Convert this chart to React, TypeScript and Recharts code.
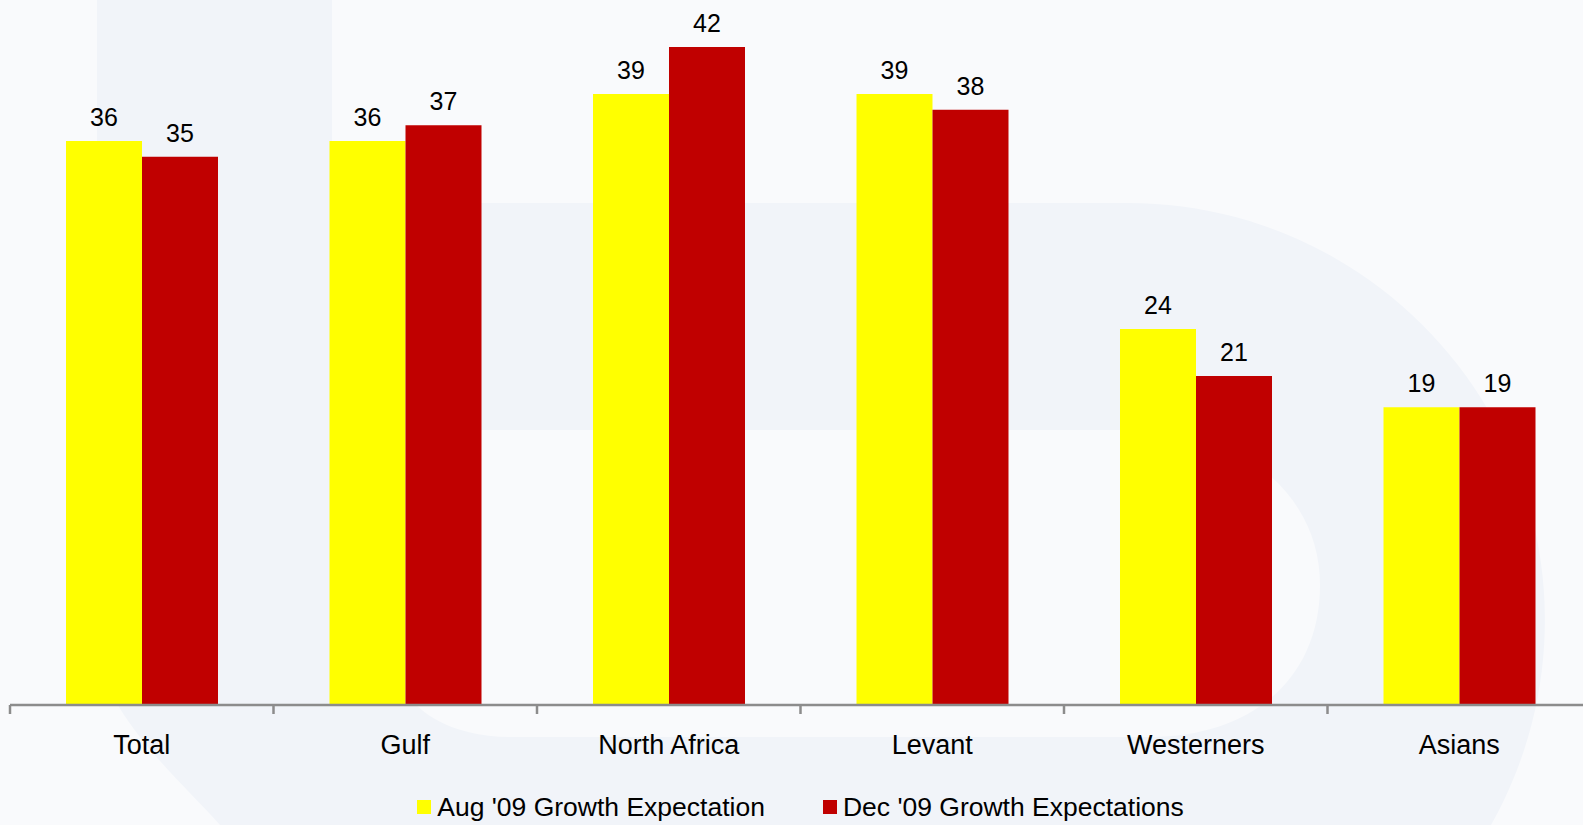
import React from 'react';
import { BarChart, Bar, XAxis, YAxis, Legend, LabelList } from 'recharts';

// categories and survey values (%)
const categories = ['Total', 'Gulf', 'North Africa', 'Levant', 'Westerners', 'Asians'];
const aug09 = [36, 36, 39, 39, 24, 19];
const dec09 = [35, 37, 42, 38, 21, 19];
const seriesNames = ["Aug '09 Growth Expectation", "Dec '09 Growth Expectations"];
const seriesColors = ['#ffff00', '#c00000'];

const data = categories.map((category, i) => ({
  category,
  aug: aug09[i],
  dec: dec09[i],
}));

const FONT = '"Liberation Sans", Arial, Helvetica, sans-serif';
const CHART_WIDTH = 1591;
const CHART_HEIGHT = 825;
const MARGIN = { top: 0, right: 0, left: 10, bottom: 0 };
const BAND = (CHART_WIDTH - MARGIN.left - MARGIN.right) / categories.length;

// category label plus a tick mark on the left edge of each band
const CategoryTick = ({ x, y, payload }: any) => (
  <g>
    <line x1={x - BAND / 2} y1={y} x2={x - BAND / 2} y2={y + 9} stroke="#8c8c8c" strokeWidth={2.5} />
    <text
      x={x}
      y={y + 49}
      textAnchor="middle"
      fill="#000"
      fontSize={27}
      fontFamily={FONT}
    >
      {payload.value}
    </text>
  </g>
);

const LegendContent = ({ payload }: any) => (
  <div
    style={{
      display: 'flex',
      justifyContent: 'center',
      paddingTop: 27,
      fontFamily: FONT,
      fontSize: 26.5,
      lineHeight: '30px',
      color: '#000',
    }}
  >
    {(payload || []).map((entry: any, i: number) => (
      <div
        key={entry.value}
        style={{ display: 'flex', alignItems: 'center', marginLeft: i === 0 ? 0 : 58 }}
      >
        <span style={{ width: 14, height: 14, background: entry.color, marginRight: 6 }} />
        <span style={{ whiteSpace: 'nowrap' }}>{entry.value}</span>
      </div>
    ))}
  </div>
);

// faint logo watermark behind the chart
const Watermark = () => (
  <svg width={1583} height={825} style={{ position: 'absolute', left: 0, top: 0 }}>
    <rect x={0} y={0} width={1583} height={825} fill="#f9fafc" />
    <path
      d="M97,0 H332 V203 H1128 A417,417 0 0 1 1491,825 H220 C180,780 120,730 97,660 Z"
      fill="#f1f4f9"
    />
    <path
      d="M400,430 H1128 C1250,430 1320,500 1320,585 C1320,680 1250,737 1150,737 H510 C450,737 410,710 400,680 Z"
      fill="#f9fafc"
    />
  </svg>
);

export default function App() {
  return (
    <div
      style={{
        position: 'absolute',
        left: 0,
        top: 0,
        width: 1583,
        height: 825,
        overflow: 'hidden',
        background: '#f9fafc',
      }}
    >
      <Watermark />
      <div style={{ position: 'absolute', left: 0, top: 0 }}>
        <BarChart
          width={CHART_WIDTH}
          height={CHART_HEIGHT}
          data={data}
          margin={MARGIN}
          barCategoryGap={56}
          barGap={0}
        >
          <XAxis
            dataKey="category"
            interval={0}
            height={60}
            tickSize={0}
            tickMargin={0}
            tickLine={false}
            axisLine={{ stroke: '#8c8c8c', strokeWidth: 2.5 }}
            tick={<CategoryTick />}
          />
          <YAxis hide domain={[0, 45]} />
          <Legend
            verticalAlign="bottom"
            height={60}
            wrapperStyle={{ height: 60 }}
            content={<LegendContent />}
          />
          <Bar dataKey="aug" name={seriesNames[0]} fill={seriesColors[0]} isAnimationActive={false}>
            <LabelList dataKey="aug" position="top" offset={15} fill="#000" fontSize={25} fontFamily={FONT} />
          </Bar>
          <Bar dataKey="dec" name={seriesNames[1]} fill={seriesColors[1]} isAnimationActive={false}>
            <LabelList dataKey="dec" position="top" offset={15} fill="#000" fontSize={25} fontFamily={FONT} />
          </Bar>
        </BarChart>
      </div>
    </div>
  );
}
